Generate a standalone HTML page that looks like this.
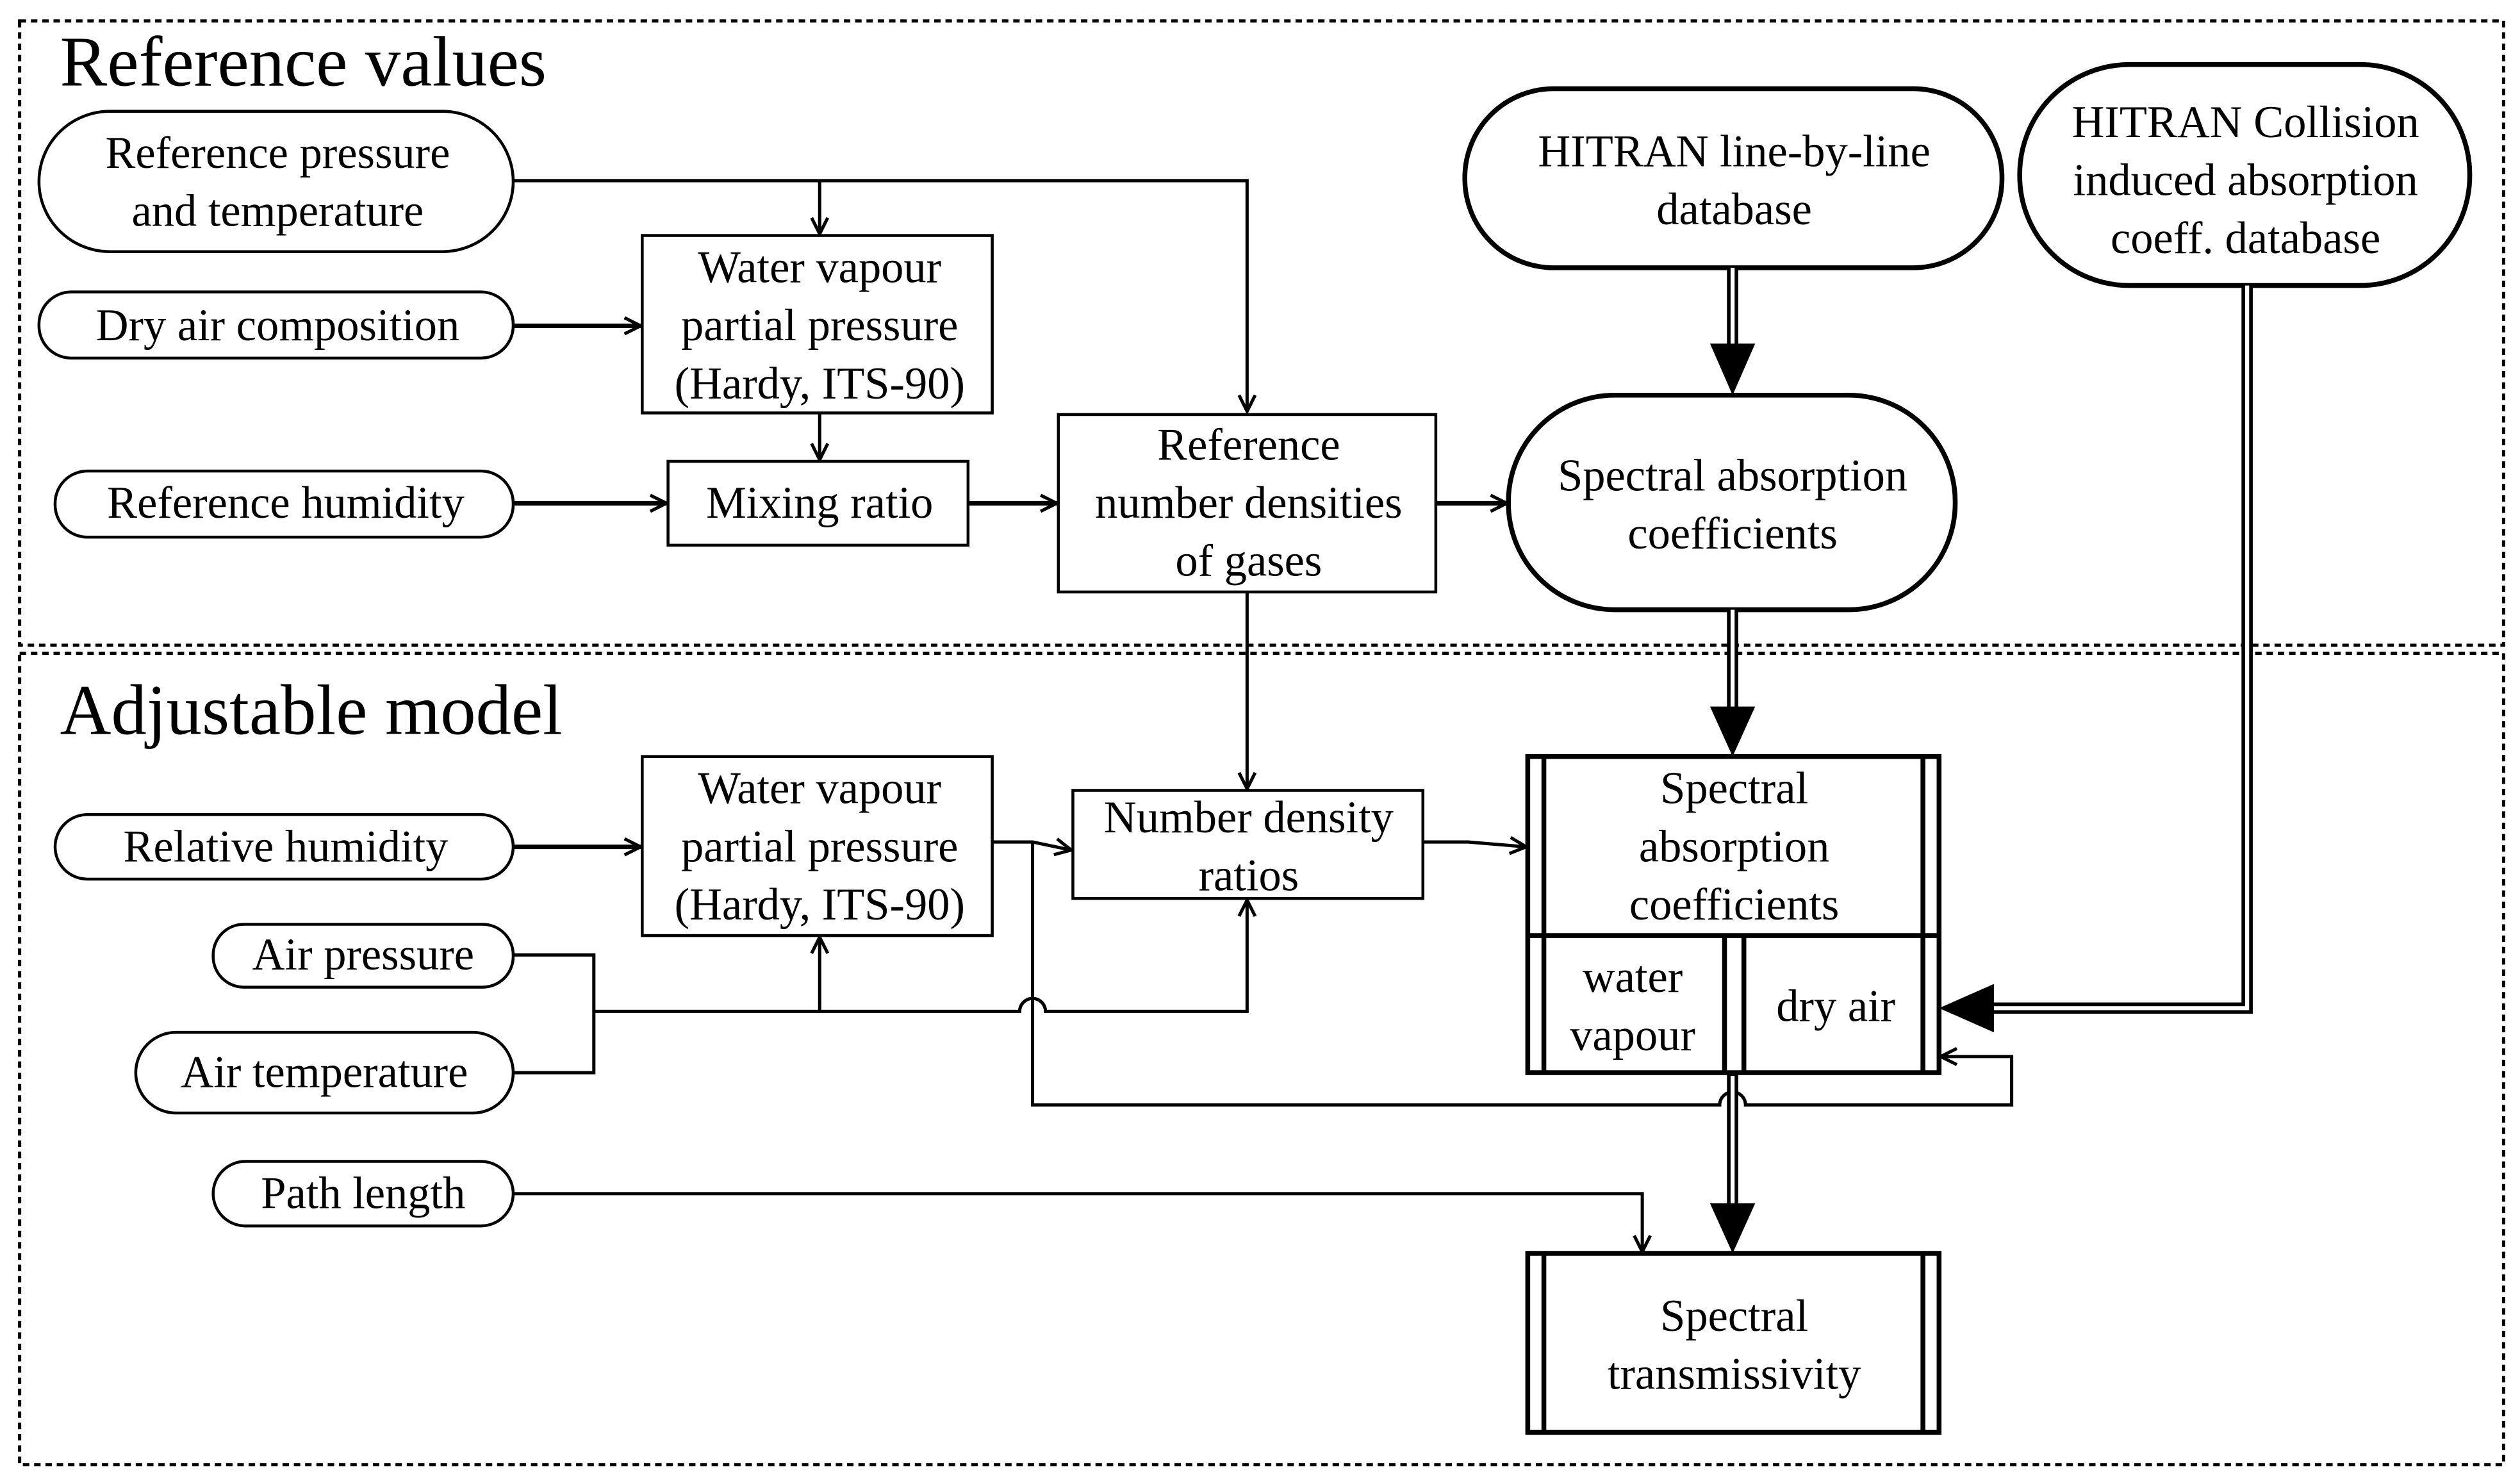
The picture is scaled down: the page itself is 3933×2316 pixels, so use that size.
<!DOCTYPE html>
<html><head><style>html,body{margin:0;padding:0;background:#fff}svg{display:block}</style></head><body>
<svg width="3933" height="2316" viewBox="0 0 1562 920" xmlns="http://www.w3.org/2000/svg" font-family="'Liberation Serif',serif" font-size="28" text-anchor="middle">
<defs>
<marker id="oa" viewBox="0 0 12 12" refX="11" refY="6" markerWidth="12" markerHeight="12" markerUnits="userSpaceOnUse" orient="auto"><path d="M1,1 L11,6 L1,11" fill="none" stroke="#000" stroke-width="2"/></marker>
</defs>
<g fill="none" stroke="#000" stroke-width="2" stroke-dasharray="4,3">
<rect x="12" y="13" width="1540" height="387"/>
<rect x="12" y="405" width="1540" height="503"/>
</g>
<text x="37" y="53" font-size="44" text-anchor="start">Reference values</text>
<text x="37" y="455" font-size="44" text-anchor="start">Adjustable model</text>
<g fill="#fff" stroke="#000" stroke-width="1.8">
<rect x="24" y="69" width="294" height="87" rx="44"/>
<rect x="24" y="181" width="294" height="41" rx="20"/>
<rect x="34" y="292" width="284" height="41" rx="20"/>
<rect x="398" y="146" width="217" height="110"/>
<rect x="414" y="286" width="186" height="52"/>
<rect x="656" y="257" width="234" height="110"/>
<rect x="34" y="505" width="284" height="40" rx="20"/>
<rect x="132" y="573" width="186" height="39" rx="19"/>
<rect x="84" y="640" width="234" height="50" rx="25"/>
<rect x="132" y="720" width="186" height="40" rx="20"/>
<rect x="398" y="469" width="217" height="111"/>
<rect x="665" y="490" width="217" height="67"/>
</g>
<g fill="#fff" stroke="#000" stroke-width="3">
<rect x="908" y="55" width="333" height="111" rx="55"/>
<rect x="1252" y="40" width="279" height="137" rx="68"/>
<rect x="935" y="245" width="277" height="133" rx="66"/>
<rect x="947" y="469" width="255" height="196"/>
<rect x="947" y="777" width="255" height="111"/>
</g>
<g stroke="#000" stroke-width="3" fill="none">
<line x1="957" y1="469" x2="957" y2="665"/><line x1="1192" y1="469" x2="1192" y2="665"/>
<line x1="947" y1="580" x2="1202" y2="580"/>
<line x1="1069" y1="580" x2="1069" y2="665"/><line x1="1081" y1="580" x2="1081" y2="665"/>
<line x1="957" y1="777" x2="957" y2="888"/><line x1="1192" y1="777" x2="1192" y2="888"/>
</g>
<g stroke="#000" stroke-width="2" fill="none">
<path d="M318,112 H773 V255" marker-end="url(#oa)"/>
<path d="M508,112 V145" marker-end="url(#oa)"/>
<path d="M508,256 V285" marker-end="url(#oa)"/>
<path d="M773,367 V489" marker-end="url(#oa)"/>
<path d="M318,592 H368 V665 H318"/>
<path d="M368,627 H632 A8,8 0 0 1 648,627 H773 V558" marker-end="url(#oa)"/>
<path d="M508,627 V581" marker-end="url(#oa)"/>
<path d="M615,522 H640 L664,527" marker-end="url(#oa)"/>
<path d="M640,522 V685 H1066 A8,8 0 0 1 1082,685 H1247 V655 H1203" marker-end="url(#oa)"/>
<path d="M882,522 H910 L946,525" marker-end="url(#oa)"/>
<path d="M318,740 H1018 V776" marker-end="url(#oa)"/>
</g>
<g stroke="#000" stroke-width="2.8" fill="none">
<path d="M318,202 H397" marker-end="url(#oa)"/>
<path d="M318,312 H413" marker-end="url(#oa)"/>
<path d="M600,312 H655" marker-end="url(#oa)"/>
<path d="M890,312 H934" marker-end="url(#oa)"/>
<path d="M318,525 H397" marker-end="url(#oa)"/>
</g>
<g stroke="#000" stroke-width="7" fill="none">
<path d="M1074,166 V215"/><path d="M1074,378 V440"/><path d="M1074,665 V750"/>
<path d="M1393,177 V625 H1235"/>
</g>
<g stroke="#fff" stroke-width="2.5" fill="none">
<path d="M1074,166 V217"/><path d="M1074,378 V442"/><path d="M1074,667 V752"/>
<path d="M1393,177 V625 H1233"/>
</g>
<g fill="#000">
<path d="M1060,213 L1088,213 L1074,245Z"/>
<path d="M1060,438 L1088,438 L1074,469Z"/>
<path d="M1060,746 L1088,746 L1074,777Z"/>
<path d="M1236,610 L1236,640 L1202,625Z"/>
</g>
<text x="172" y="104">Reference pressure</text>
<text x="172" y="140">and temperature</text>
<text x="172" y="211">Dry air composition</text>
<text x="177" y="321">Reference humidity</text>
<text x="508" y="175">Water vapour</text>
<text x="508" y="211">partial pressure</text>
<text x="508" y="247">(Hardy, ITS-90)</text>
<text x="508" y="321">Mixing ratio</text>
<text x="774" y="285">Reference</text>
<text x="774" y="321">number densities</text>
<text x="774" y="357">of gases</text>
<text x="1075" y="103">HITRAN line-by-line</text>
<text x="1075" y="139">database</text>
<text x="1392" y="85">HITRAN Collision</text>
<text x="1392" y="121">induced absorption</text>
<text x="1392" y="157">coeff. database</text>
<text x="1074" y="304">Spectral absorption</text>
<text x="1074" y="340">coefficients</text>
<text x="177" y="534">Relative humidity</text>
<text x="225" y="601">Air pressure</text>
<text x="201" y="674">Air temperature</text>
<text x="225" y="749">Path length</text>
<text x="508" y="498">Water vapour</text>
<text x="508" y="534">partial pressure</text>
<text x="508" y="570">(Hardy, ITS-90)</text>
<text x="774" y="516">Number density</text>
<text x="774" y="552">ratios</text>
<text x="1075" y="498">Spectral</text>
<text x="1075" y="534">absorption</text>
<text x="1075" y="570">coefficients</text>
<text x="1012" y="615">water</text>
<text x="1012" y="651">vapour</text>
<text x="1138" y="633">dry air</text>
<text x="1075" y="825">Spectral</text>
<text x="1075" y="861">transmissivity</text>
</svg>
</body></html>
